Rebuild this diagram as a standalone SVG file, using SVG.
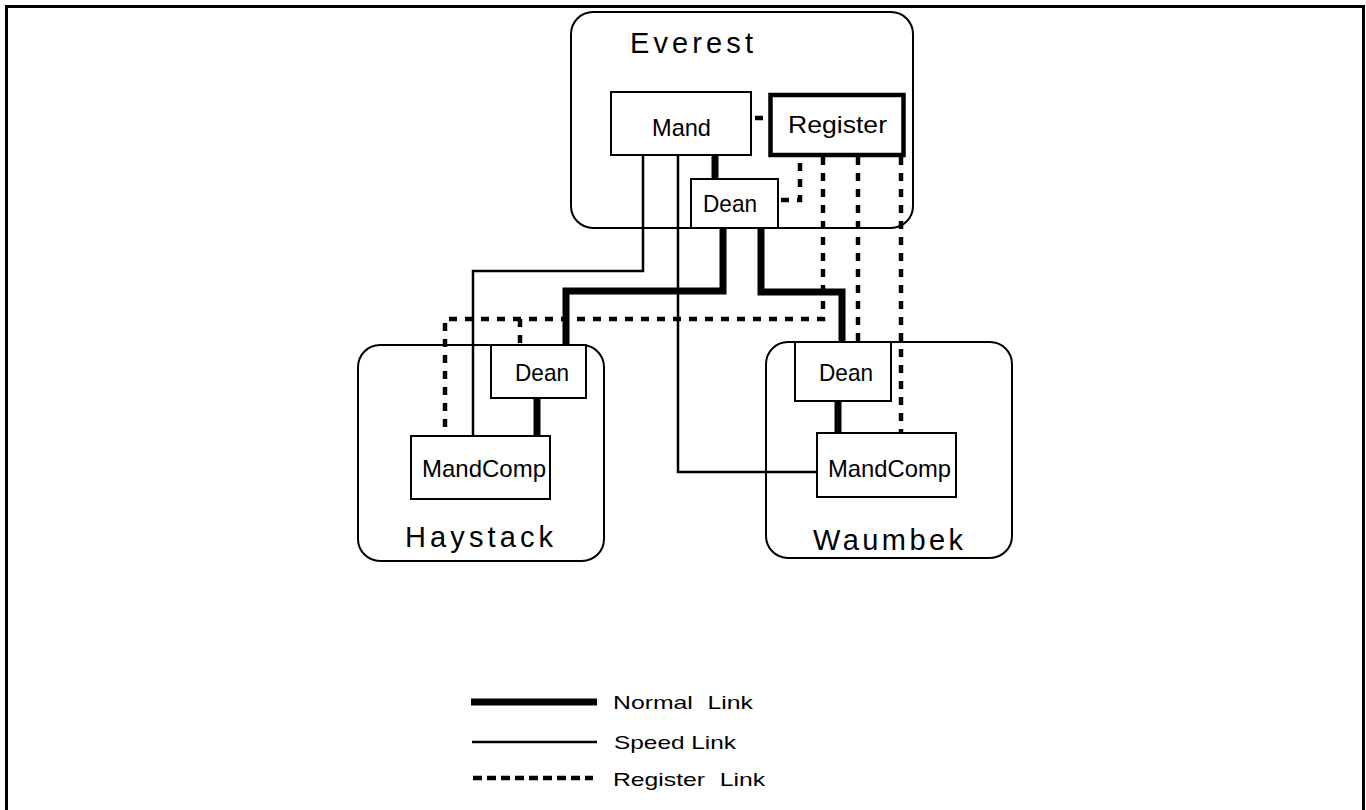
<svg xmlns="http://www.w3.org/2000/svg" width="1366" height="810" viewBox="0 0 1366 810">
  <style>
    .frame { fill: none; stroke: #000; stroke-width: 3; }
    .host { fill: #fff; stroke: #000; stroke-width: 2; }
    .proc { fill: #fff; stroke: #000; stroke-width: 2; }
    .reg { fill: #fff; stroke: #000; stroke-width: 4.5; }
    .normal { fill: none; stroke: #000; stroke-width: 7; }
    .speed { fill: none; stroke: #000; stroke-width: 2.5; }
    .register { fill: none; stroke: #000; stroke-width: 4.5; stroke-dasharray: 8 8; }
    .lbl { font-family: "Liberation Sans", Arial, Helvetica, sans-serif; fill: #000; }
    .node { font-size: 24px; }
    .title { font-size: 29px; }
    .legend { font-size: 19px; }
  </style>

  <rect width="1366" height="810" fill="#fff"/>
  <rect class="frame" x="6.5" y="6.5" width="1357" height="850"/>

  <!-- host machines -->
  <g id="everest">
    <rect class="host" x="571" y="12" width="342" height="216" rx="22"/>
    <text class="lbl title" x="630" y="53" textLength="123" lengthAdjust="spacing">Everest</text>
  </g>
  <g id="haystack">
    <rect class="host" x="358" y="345" width="246" height="216" rx="22"/>
    <text class="lbl title" x="405" y="547" textLength="148" lengthAdjust="spacing">Haystack</text>
  </g>
  <g id="waumbek">
    <rect class="host" x="766" y="342" width="246" height="216" rx="22"/>
    <text class="lbl title" x="813" y="550" textLength="150" lengthAdjust="spacing">Waumbek</text>
  </g>

  <!-- links -->
  <g id="connectors">
    <!-- normal links -->
    <path class="normal" d="M715,155 V179"/>
    <path class="normal" d="M723,228 V291 H566 V345"/>
    <path class="normal" d="M761,228 V292 H842 V342"/>
    <path class="normal" d="M537,398 V436"/>
    <path class="normal" d="M838,401 V433"/>
    <!-- speed links -->
    <path class="speed" d="M643,155 V271 H473 V436"/>
    <path class="speed" d="M678,155 V472 H817"/>
    <!-- register links -->
    <path class="register" d="M755,118 H763"/>
    <path class="register" d="M781,200 H800 V157"/>
    <path class="register" d="M823,157 V319 H445 V436"/>
    <path class="register" d="M520,319 V345"/>
    <path class="register" d="M858,157 V342"/>
    <path class="register" d="M901,157 V433"/>
  </g>

  <!-- processes on Everest -->
  <g id="everest-mand">
    <rect class="proc" x="611" y="92" width="140" height="63"/>
    <text class="lbl node" x="652" y="136" textLength="59" lengthAdjust="spacingAndGlyphs">Mand</text>
  </g>
  <g id="everest-register">
    <rect class="reg" x="770.5" y="95" width="133" height="60"/>
    <text class="lbl node" x="788" y="133" textLength="99" lengthAdjust="spacingAndGlyphs">Register</text>
  </g>
  <g id="everest-dean">
    <rect class="proc" x="691" y="179" width="87" height="49"/>
    <text class="lbl node" x="703" y="212" textLength="54" lengthAdjust="spacingAndGlyphs">Dean</text>
  </g>

  <!-- processes on Haystack -->
  <g id="haystack-dean">
    <rect class="proc" x="491" y="345" width="95" height="53"/>
    <text class="lbl node" x="515" y="381" textLength="54" lengthAdjust="spacingAndGlyphs">Dean</text>
  </g>
  <g id="haystack-mandcomp">
    <rect class="proc" x="411" y="436" width="139" height="63"/>
    <text class="lbl node" x="422" y="477" textLength="124" lengthAdjust="spacingAndGlyphs">MandComp</text>
  </g>

  <!-- processes on Waumbek -->
  <g id="waumbek-dean">
    <rect class="proc" x="795" y="342" width="96" height="59"/>
    <text class="lbl node" x="819" y="381" textLength="54" lengthAdjust="spacingAndGlyphs">Dean</text>
  </g>
  <g id="waumbek-mandcomp">
    <rect class="proc" x="817" y="433" width="139" height="64"/>
    <text class="lbl node" x="828" y="477" textLength="123" lengthAdjust="spacingAndGlyphs">MandComp</text>
  </g>

  <!-- key -->
  <g id="legend">
    <path class="normal" d="M471,702 H597"/>
    <path class="speed" d="M472,742 H597"/>
    <path class="register" d="M473,778 H593" style="stroke-dasharray: 9 5"/>
    <text class="lbl legend" x="613" y="709" textLength="140" lengthAdjust="spacingAndGlyphs" word-spacing="6">Normal Link</text>
    <text class="lbl legend" x="614" y="749" textLength="122" lengthAdjust="spacingAndGlyphs">Speed Link</text>
    <text class="lbl legend" x="613" y="786" textLength="152" lengthAdjust="spacingAndGlyphs" word-spacing="6">Register Link</text>
  </g>
</svg>
